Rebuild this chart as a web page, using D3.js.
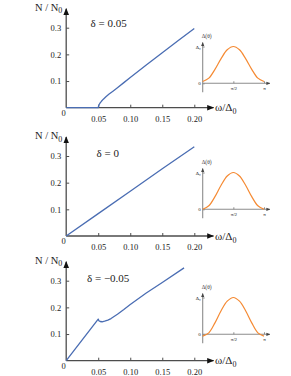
<!DOCTYPE html>
<html>
<head>
<meta charset="utf-8">
<script src="https://cdn.jsdelivr.net/npm/d3@7"></script>
<style>
  body { margin: 0; background: #fff; }
  svg { display: block; font-family: "Liberation Serif", "Times New Roman", serif; }
</style>
</head>
<body>
<script>
// ---- data ----
const deltaLabels = ['δ = 0.05', 'δ = 0', 'δ = \u22120.05']
const xTicks = [0.05, 0.10, 0.15, 0.20]
const yTicks = [0.1, 0.2, 0.3]

// N/N0 vs w/Delta0, one pair of arrays per panel
const omega1 = [0, 0.05, 0.0505, 0.0515, 0.053, 0.055, 0.058, 0.062, 0.067, 0.073, 0.08, 0.09, 0.10, 0.125, 0.15, 0.175, 0.20]
const dos1   = [0, 0, 0.006, 0.012, 0.018, 0.024, 0.032, 0.041, 0.051, 0.062, 0.075, 0.094, 0.113, 0.160, 0.206, 0.252, 0.297]
const omega2 = [0, 0.05, 0.10, 0.15, 0.20]
const dos2   = [0, 0.084, 0.168, 0.252, 0.335]
const omega3 = [0, 0.025, 0.05, 0.051, 0.053, 0.056, 0.06, 0.065, 0.07, 0.08, 0.09, 0.10, 0.125, 0.15, 0.184]
const dos3   = [0, 0.078, 0.156, 0.150, 0.147, 0.146, 0.148, 0.152, 0.158, 0.174, 0.192, 0.211, 0.254, 0.293, 0.348]

// inset gap Delta(theta)/Delta0, theta in units of pi
const theta = [0, 0.1, 0.2, 0.3, 0.4, 0.5, 0.6, 0.7, 0.8, 0.9, 1]
const gap1  = [0.05, 0.14, 0.38, 0.67, 0.91, 1, 0.91, 0.67, 0.38, 0.14, 0.05]
const gap2  = [0, 0.095, 0.345, 0.655, 0.905, 1, 0.905, 0.655, 0.345, 0.095, 0]
const gap3  = [-0.05, 0.04, 0.31, 0.64, 0.9, 1, 0.9, 0.64, 0.31, 0.04, -0.05]

const panels = [
  {omega: omega1, dos: dos1, gap: gap1, label: deltaLabels[0], axisY: 107.7, insetY: 83.3, lx: 90.5, ly: 27},
  {omega: omega2, dos: dos2, gap: gap2, label: deltaLabels[1], axisY: 236,   insetY: 209.3, lx: 96.5, ly: 157},
  {omega: omega3, dos: dos3, gap: gap3, label: deltaLabels[2], axisY: 360.7, insetY: 334.3, lx: 87,   ly: 282}
]

const W = 291, H = 376
const blue = '#4a6db3', orange = '#f58a33', axisCol = '#4d4d4d', insetCol = '#8c8c8c'

const svg = d3.select('body').append('svg')
  .attr('width', W).attr('height', H)

const defs = svg.append('defs')
function arrow(id, col, size) {
  defs.append('marker')
    .attr('id', id)
    .attr('viewBox', '0 0 10 10')
    .attr('refX', 9).attr('refY', 5)
    .attr('markerUnits', 'userSpaceOnUse')
    .attr('markerWidth', size).attr('markerHeight', size)
    .attr('orient', 'auto')
    .append('path')
    .attr('d', 'M0,1 L10,5 L0,9 Z')
    .attr('fill', col)
}
arrow('arr', '#111', 7)
arrow('arrSmall', '#444', 4)

const x = d3.scaleLinear().domain([0, 0.2]).range([66.2, 194.3])

// strip d3's default sans-serif so the serif face of the svg is used
function styleAxis(sel, col, size) {
  sel.attr('font-family', null).attr('font-size', size)
  sel.select('.domain').remove()
  sel.selectAll('line').attr('stroke', col).attr('stroke-width', 1)
  sel.selectAll('text').attr('fill', '#222')
}

panels.forEach(p => {
  const g = svg.append('g')
  const y = d3.scaleLinear().domain([0, 0.3]).range([p.axisY, p.axisY - 80])

  // main axes
  g.append('line')
    .attr('x1', x(0)).attr('y1', p.axisY)
    .attr('x2', 213.5).attr('y2', p.axisY)
    .attr('stroke', axisCol).attr('stroke-width', 1.3)
    .attr('marker-end', 'url(#arr)')
  g.append('line')
    .attr('x1', x(0)).attr('y1', p.axisY)
    .attr('x2', x(0)).attr('y2', p.axisY - 99)
    .attr('stroke', axisCol).attr('stroke-width', 1.3)
    .attr('marker-end', 'url(#arr)')

  g.append('g')
    .attr('transform', `translate(0,${p.axisY})`)
    .call(d3.axisBottom(x).tickValues(xTicks).tickSize(-3).tickPadding(8)
      .tickFormat(d3.format('.2f')))
    .call(styleAxis, axisCol, 8.5)

  g.append('g')
    .attr('transform', `translate(${x(0)},0)`)
    .call(d3.axisLeft(y).tickValues(yTicks).tickSize(-3).tickPadding(5)
      .tickFormat(d3.format('.1f')))
    .call(styleAxis, axisCol, 8.5)

  g.append('text')
    .attr('x', 63.5).attr('y', p.axisY + 8)
    .attr('text-anchor', 'middle')
    .attr('font-size', 8.5).attr('fill', '#222')
    .text('0')

  // axis titles
  const ny = g.append('text')
    .attr('x', 35).attr('y', p.axisY - 97)
    .attr('font-size', 10.5).attr('fill', '#222')
  ny.append('tspan').text('N / N')
  ny.append('tspan').attr('dy', 2.5).attr('font-size', 8).text('0')

  const wx = g.append('text')
    .attr('x', 215).attr('y', p.axisY + 3.5)
    .attr('font-size', 11).attr('fill', '#222')
  wx.append('tspan').text('\u03c9/\u0394')
  wx.append('tspan').attr('dy', 3).attr('font-size', 8).text('0')

  g.append('text')
    .attr('x', p.lx).attr('y', p.ly)
    .attr('font-size', 11).attr('fill', '#222')
    .text(p.label)

  // curve
  g.append('path')
    .datum(p.omega.map((w, i) => [w, p.dos[i]]))
    .attr('fill', 'none')
    .attr('stroke', blue).attr('stroke-width', 1.3)
    .attr('stroke-linejoin', 'round')
    .attr('d', d3.line().x(d => x(d[0])).y(d => y(d[1])))

  // inset
  const tx = d3.scaleLinear().domain([0, 1]).range([202.7, 264])
  const ty = d3.scaleLinear().domain([0, 1]).range([p.insetY, p.insetY - 36.8])
  const ig = g.append('g')
  ig.append('line')
    .attr('x1', tx(0)).attr('y1', p.insetY)
    .attr('x2', 270).attr('y2', p.insetY)
    .attr('stroke', insetCol).attr('stroke-width', 1.1)
    .attr('marker-end', 'url(#arrSmall)')
  ig.append('line')
    .attr('x1', tx(0)).attr('y1', p.insetY + 9)
    .attr('x2', tx(0)).attr('y2', ty(1) - 4)
    .attr('stroke', insetCol).attr('stroke-width', 1.1)
    .attr('marker-end', 'url(#arrSmall)')

  ig.append('g')
    .attr('transform', `translate(0,${p.insetY})`)
    .call(d3.axisBottom(tx).tickValues([0.5, 1]).tickSize(-2).tickPadding(3)
      .tickFormat(d => d === 1 ? '\u03c0' : '\u03c0/2'))
    .call(styleAxis, insetCol, 5)

  ig.append('g')
    .attr('transform', `translate(${tx(0)},0)`)
    .call(d3.axisLeft(ty).tickValues([0, 1]).tickSize(-2).tickPadding(2)
      .tickFormat(d => d === 0 ? '0' : '\u0394\u2080'))
    .call(styleAxis, insetCol, 5)

  ig.append('text')
    .attr('x', tx(0) + 4).attr('y', ty(1) - 9)
    .attr('text-anchor', 'middle')
    .attr('font-size', 5.5).attr('fill', '#333')
    .text('\u0394(\u03b8)')

  ig.append('path')
    .datum(theta.map((t, i) => [t, p.gap[i]]))
    .attr('fill', 'none')
    .attr('stroke', orange).attr('stroke-width', 1.2)
    .attr('d', d3.line().x(d => tx(d[0])).y(d => ty(d[1])).curve(d3.curveCatmullRom))
})
</script>
</body>
</html>
